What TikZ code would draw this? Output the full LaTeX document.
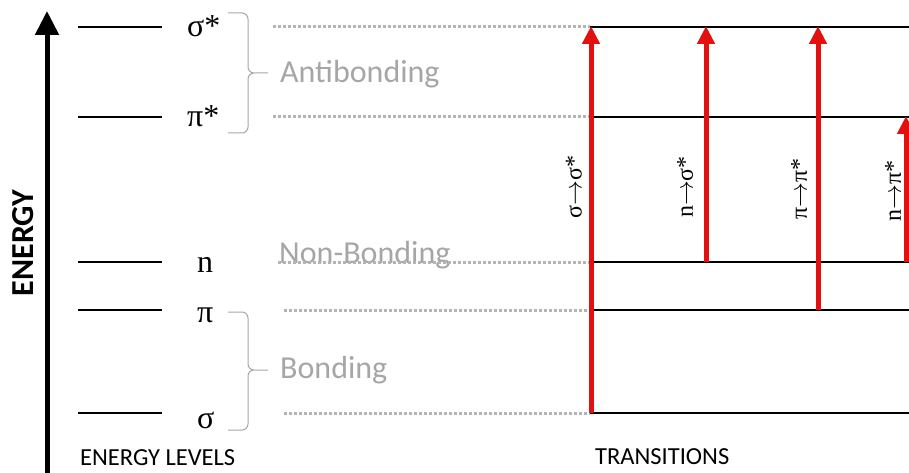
\documentclass[tikz,border=0pt]{standalone}
\usepackage{fontspec}
\setmainfont{Carlito}
\newfontfamily\serifsym{Liberation Serif}
\usetikzlibrary{arrows.meta}
\definecolor{lightg}{HTML}{A6A6A6}
\definecolor{dotg}{HTML}{B4B4B4}
\definecolor{redarr}{HTML}{E31010}
\tikzset{
  lvl/.style={line width=2pt, black},
  dotl/.style={line width=3pt, dotg, dash pattern=on 2.5pt off 2.5pt},
  brc/.style={line width=1pt, lightg},
  sym/.style={font=\serifsym\fontsize{32}{32}\selectfont, inner sep=0pt, anchor=base west},
  grp/.style={font=\fontsize{32}{32}\selectfont, text=lightg, inner sep=0pt, anchor=base west},
  trans/.style={line width=5pt, redarr, -{Triangle[length=18pt,width=17pt]}, shorten >=-1pt},
  tlab/.style={font=\serifsym\fontsize{24}{24}\selectfont, rotate=90, inner sep=0pt},
  captxt/.style={font=\fontsize{24.5}{24.5}\selectfont, inner sep=0pt, anchor=base west},
}
\begin{document}
\begin{tikzpicture}[x=1pt,y=-1pt]
\useasboundingbox (0,0) rectangle (909,473);
% energy axis
\coordinate (eb) at (47,473);
\coordinate (et) at (47,13);
\draw[line width=5pt, -{Triangle[length=24pt,width=23pt]}, shorten >=-2pt] (eb) -- (et);
\node[font=\bfseries\fontsize{32}{32}\selectfont, rotate=90, inner sep=0pt] (energy) at (23,243) {ENERGY};
% left levels
\foreach \n/\y in {ss/27, ps/117, nn/262, pp/310, sg/413}{
  \coordinate (L\n a) at (78,\y);
  \coordinate (L\n b) at (162,\y);
  \draw[lvl] (L\n a) -- (L\n b);
}
\node[sym] (lss) at (187,37) {σ*};
\node[sym] (lps) at (187,127) {π*};
\node[sym] (lnn) at (197,272) {n};
\node[sym] (lpp) at (197,322) {π};
\node[sym] (lsg) at (197,428) {σ};
% braces
\draw[brc] (228,13) -- (242,13) to[out=0,in=90] (248,19) -- (248,67) to[out=-90,in=180] (254,73) -- (268,73)
           (254,73) to[out=180,in=90] (248,79) -- (248,127) to[out=-90,in=0] (242,133) -- (228,133);
\draw[brc] (228,312) -- (242,312) to[out=0,in=90] (248,318) -- (248,364) to[out=-90,in=180] (254,370) -- (268,370)
           (254,370) to[out=180,in=90] (248,376) -- (248,424) to[out=-90,in=0] (242,430) -- (228,430);
\node[grp] (anti) at (280,83) {Antibonding};
\node[grp] (nonb) at (279,263) {Non-Bonding};
\node[grp] (bond) at (280,378) {Bonding};
% dotted guides and right levels
\foreach \n/\y/\x in {ss/27/273, ps/117/273, nn/262/278, pp/310/284, sg/413/284}{
  \coordinate (D\n a) at (\x,\y);
  \coordinate (R\n a) at (590,\y);
  \coordinate (R\n b) at (909,\y);
  \draw[dotl] (D\n a) -- (R\n a);
  \draw[lvl] (R\n a) -- (R\n b);
}
% transitions
\coordinate (t1b) at (591,413); \coordinate (t1t) at (591,27);
\coordinate (t2b) at (706,262); \coordinate (t2t) at (706,27);
\coordinate (t3b) at (818,310); \coordinate (t3t) at (818,27);
\coordinate (t4b) at (906,262); \coordinate (t4t) at (906,117);
\draw[trans] (t1b) -- (t1t);
\draw[trans] (t2b) -- (t2t);
\draw[trans] (t3b) -- (t3t);
\draw[trans] (t4b) -- (t4t);
\node[tlab] (lab1) at (574,187) {σ$\rightarrow$σ*};
\node[tlab] (lab2) at (685,187) {n$\rightarrow$σ*};
\node[tlab] (lab3) at (799,189) {π$\rightarrow$π*};
\node[tlab] (lab4) at (893,191) {n$\rightarrow$π*};
% captions
\node[captxt] (el) at (80,465) {ENERGY LEVELS};
\node[captxt] (tr) at (595,464) {TRANSITIONS};
\end{tikzpicture}
\end{document}
